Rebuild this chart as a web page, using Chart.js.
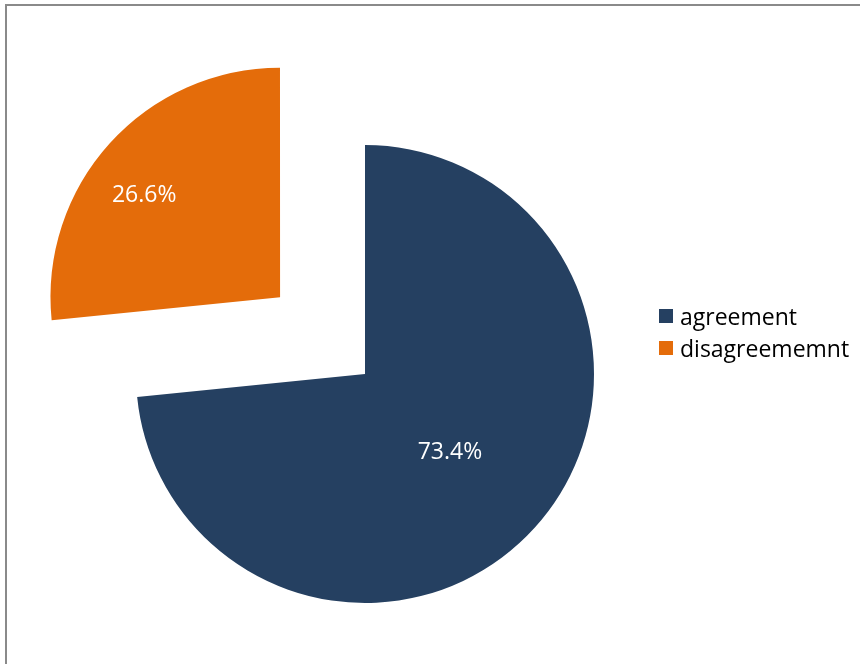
<!DOCTYPE html>
<html>
<head>
<meta charset="utf-8">
<script src="https://cdn.jsdelivr.net/npm/chart.js@4/dist/chart.umd.min.js"></script>
<style>
  html, body { margin: 0; padding: 0; background: #fff; }
  #wrap { width: 860px; height: 664px; }
</style>
</head>
<body>
<div id="wrap"><canvas id="mycanvas" width="860" height="664"></canvas></div>
<script>
// pie data
var labels = ["agreement", "disagreememnt"];
var shares = [73.4, 26.6];
var colors = ["#254061", "#E46C0A"];
var explode = [0, 458];          // arc offset, the orange piece is pulled out
var labelPlace = [               // radius fraction and angle nudge (deg) for the % labels
  { r: 0.5, a: 0 },
  { r: 0.745, a: -4.7 }
];

var FONT = "'Open Sans', Lato, sans-serif";

// thin grey frame along top and left
var framePlugin = {
  id: "frame",
  beforeDraw: function(chart) {
    var ctx = chart.ctx;
    ctx.save();
    ctx.fillStyle = "#8a8a8a";
    ctx.fillRect(5, 4, 855, 2);
    ctx.fillRect(5, 4, 2, 660);
    ctx.restore();
  }
};

// percent labels inside the slices
var pctPlugin = {
  id: "pct",
  afterDatasetsDraw: function(chart) {
    var ctx = chart.ctx;
    var meta = chart.getDatasetMeta(0);
    ctx.save();
    ctx.fillStyle = "#ffffff";
    ctx.font = "23px " + FONT;
    ctx.textAlign = "center";
    ctx.textBaseline = "middle";
    meta.data.forEach(function(arc, i) {
      var p = arc.getProps(["x", "y", "startAngle", "endAngle", "outerRadius", "circumference"], true);
      var mid = (p.startAngle + p.endAngle) / 2;
      var off = (explode[i] || 0) / 4;
      var fix = 1 - Math.sin(Math.min(Math.PI, p.circumference));
      var shift = off * (1 + fix);
      var cx = p.x + Math.cos(mid) * shift;
      var cy = p.y + Math.sin(mid) * shift;
      var a = mid + labelPlace[i].a * Math.PI / 180;
      var d = p.outerRadius * labelPlace[i].r;
      ctx.fillText(shares[i].toFixed(1) + "%", cx + Math.cos(a) * d, cy + Math.sin(a) * d + 2);
    });
    ctx.restore();
  }
};

// legend on the right
var keyPlugin = {
  id: "key",
  afterDraw: function(chart) {
    var ctx = chart.ctx;
    ctx.save();
    ctx.font = "23px " + FONT;
    ctx.textBaseline = "middle";
    ctx.textAlign = "left";
    for (var i = 0; i < labels.length; i++) {
      var y = 316 + i * 32;
      ctx.fillStyle = colors[i];
      ctx.fillRect(659, y - 7, 14, 14);
      ctx.fillStyle = "#000000";
      ctx.fillText(labels[i], 680, y + 2);
    }
    ctx.restore();
  }
};

var ctx = document.getElementById("mycanvas");

var PieGraph = new Chart(ctx, {
  type: "pie",
  data: {
    labels: labels,
    datasets: [{
      data: shares,
      backgroundColor: colors,
      borderWidth: 0,
      offset: explode,
      radius: 229
    }]
  },
  options: {
    responsive: false,
    animation: false,
    layout: { padding: { left: 0, right: 130, top: 84, bottom: 0 } },
    plugins: {
      legend: { display: false },
      tooltip: { enabled: false }
    }
  },
  plugins: [framePlugin, pctPlugin, keyPlugin]
});
</script>
</body>
</html>
